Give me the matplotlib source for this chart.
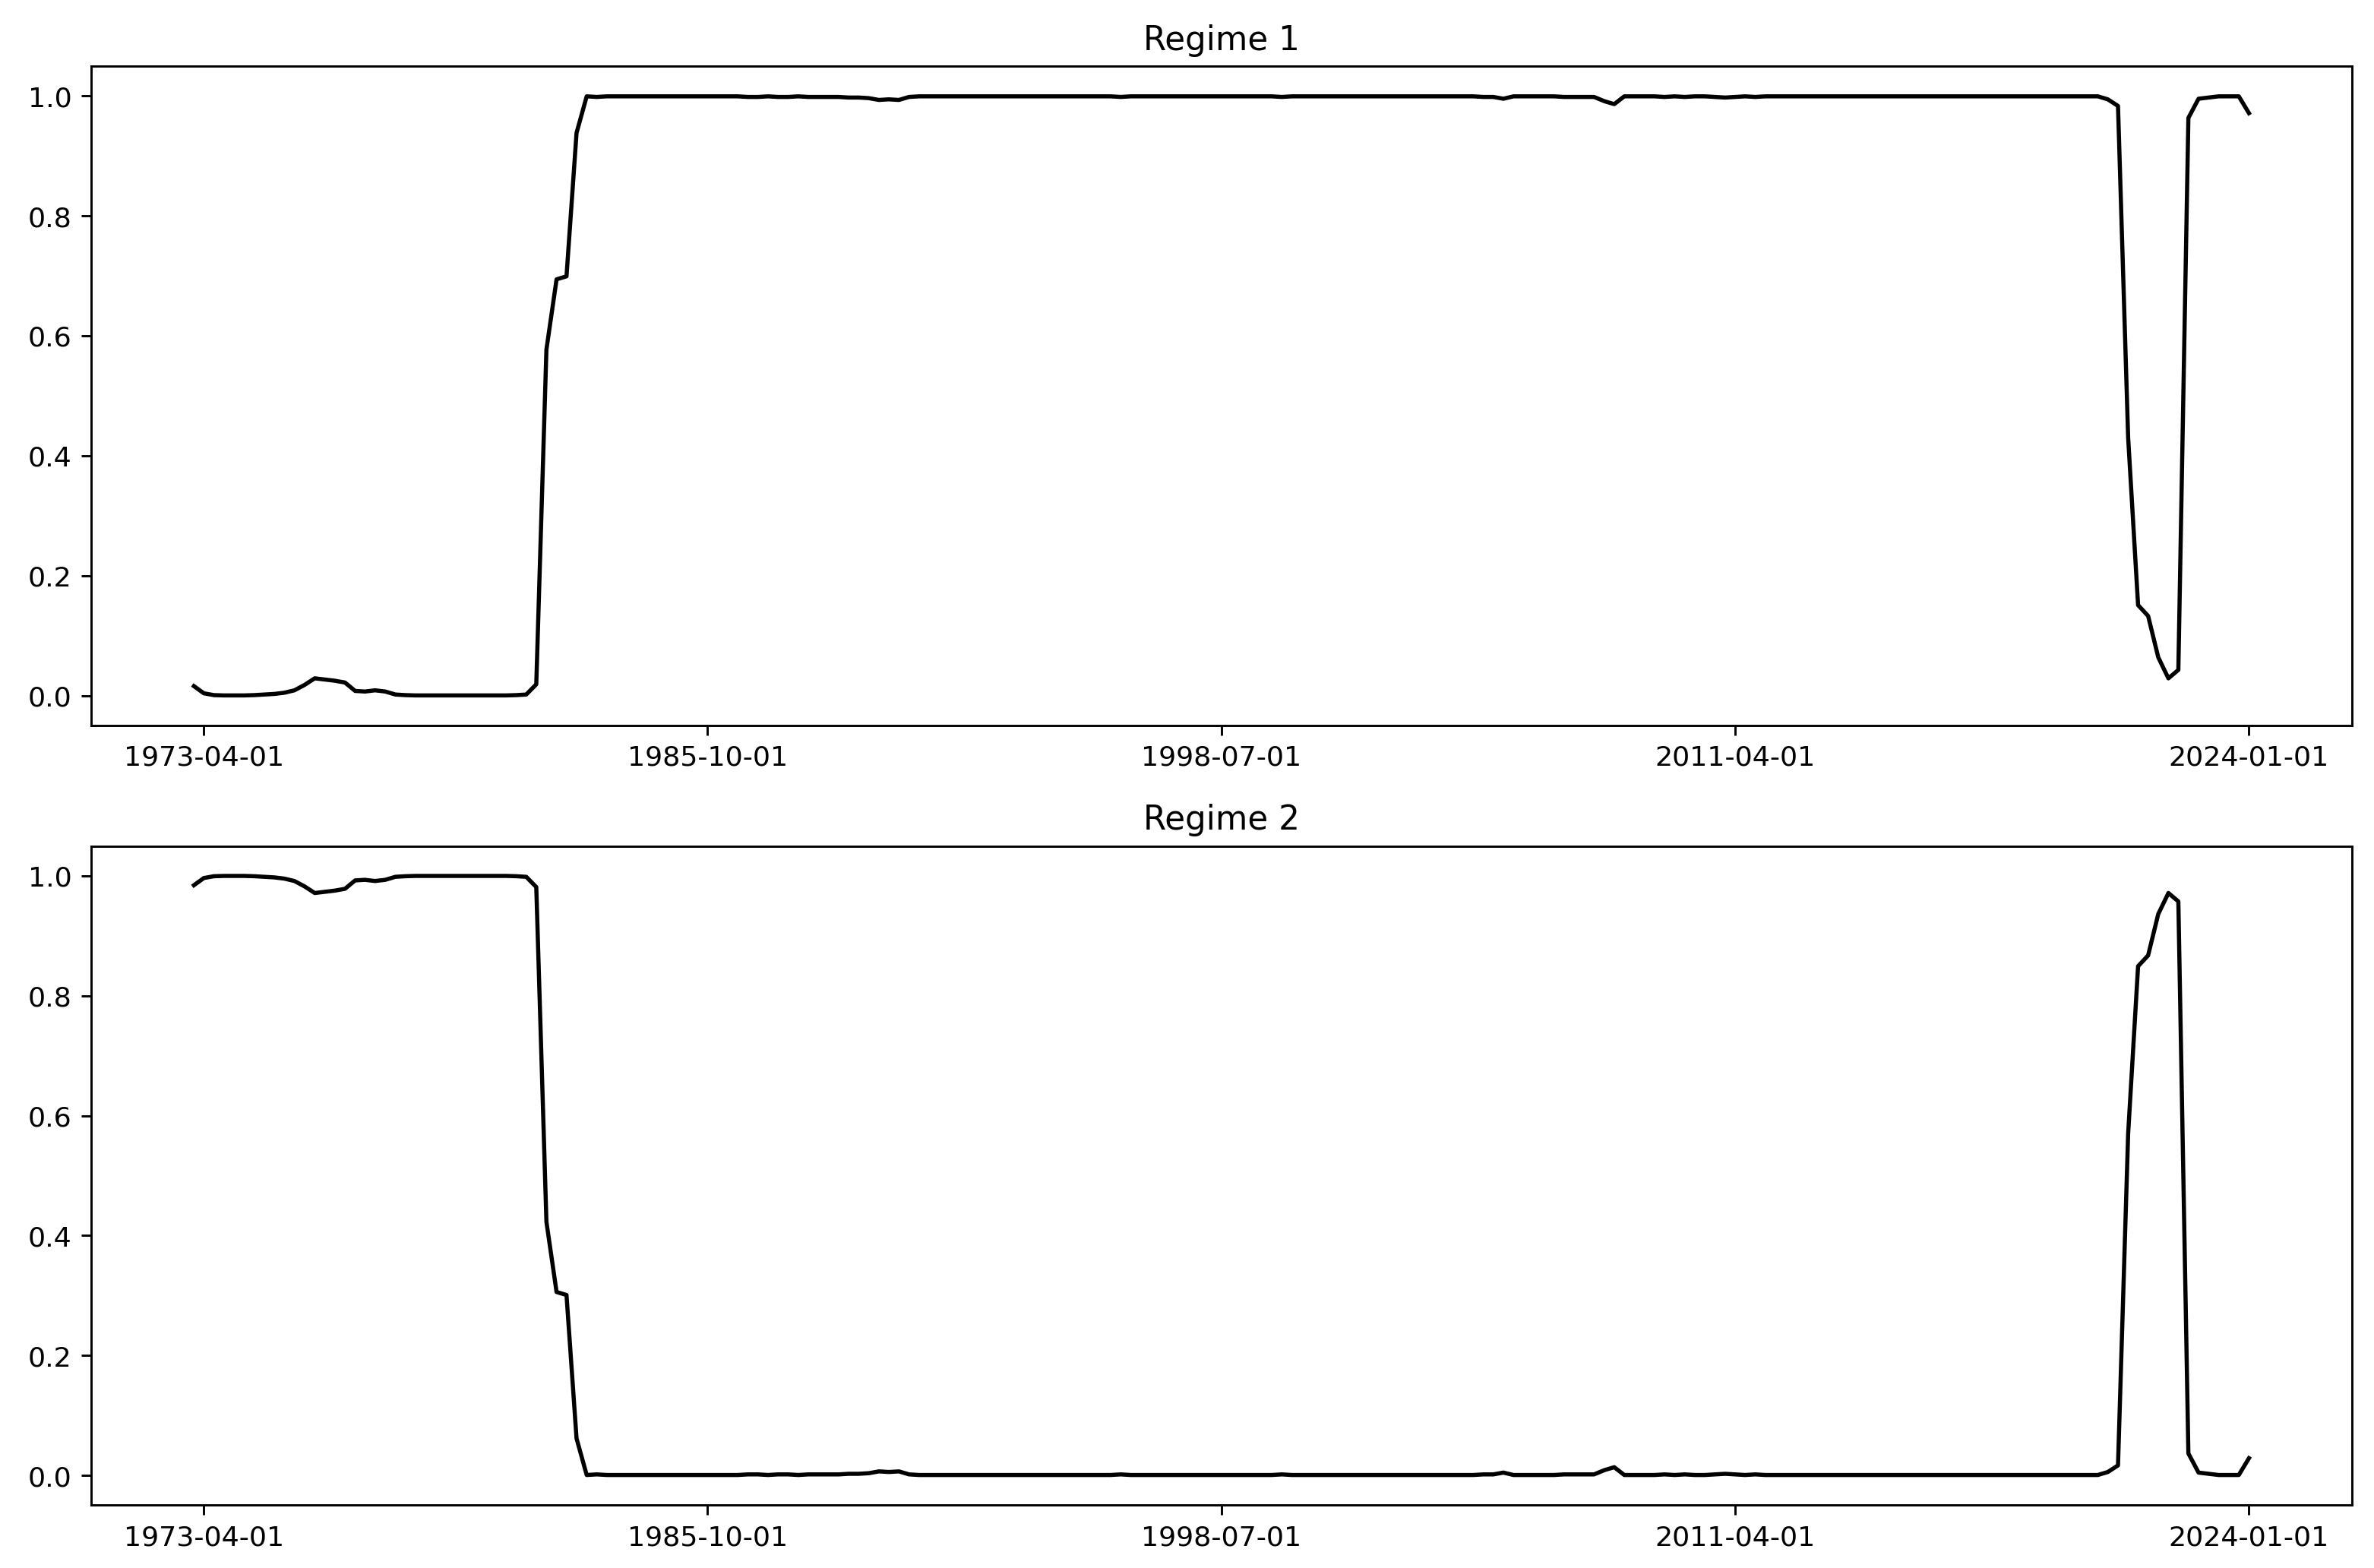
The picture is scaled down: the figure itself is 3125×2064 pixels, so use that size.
import matplotlib
matplotlib.use('Agg')
import matplotlib.pyplot as plt
import pandas as pd

# smoothed regime probabilities, quarterly 1973-01-01 .. 2024-01-01
dates = pd.date_range('1973-01-01', '2024-01-01', freq='QS')

regime_1 = [
    0.016, 0.004, 0.001, 0.0005, 0.0005, 0.0005, 0.001, 0.002, 0.003, 0.005,
    0.009, 0.018, 0.029, 0.027, 0.025, 0.022, 0.008, 0.007, 0.009, 0.007,
    0.002, 0.001, 0.0005, 0.0005, 0.0005, 0.0005, 0.0005, 0.0005, 0.0005, 0.0005,
    0.0005, 0.0005, 0.001, 0.002, 0.019, 0.577, 0.694, 0.699, 0.938, 0.999,
    0.998, 0.999, 0.999, 0.999, 0.999, 0.999, 0.999, 0.999, 0.999, 0.999,
    0.999, 0.999, 0.999, 0.999, 0.999, 0.998, 0.998, 0.999, 0.998, 0.998,
    0.999, 0.998, 0.998, 0.998, 0.998, 0.997, 0.997, 0.996, 0.993, 0.994,
    0.993, 0.998, 0.999, 0.999, 0.999, 0.999, 0.999, 0.999, 0.999, 0.999,
    0.999, 0.999, 0.999, 0.999, 0.999, 0.999, 0.999, 0.999, 0.999, 0.999,
    0.999, 0.999, 0.998, 0.999, 0.999, 0.999, 0.999, 0.999, 0.999, 0.999,
    0.999, 0.999, 0.999, 0.999, 0.999, 0.999, 0.999, 0.999, 0.998, 0.999,
    0.999, 0.999, 0.999, 0.999, 0.999, 0.999, 0.999, 0.999, 0.999, 0.999,
    0.999, 0.999, 0.999, 0.999, 0.999, 0.999, 0.999, 0.999, 0.998, 0.998,
    0.995, 0.999, 0.999, 0.999, 0.999, 0.999, 0.998, 0.998, 0.998, 0.998,
    0.991, 0.986, 0.999, 0.999, 0.999, 0.999, 0.998, 0.999, 0.998, 0.999,
    0.999, 0.998, 0.997, 0.998, 0.999, 0.998, 0.999, 0.999, 0.999, 0.999,
    0.999, 0.999, 0.999, 0.999, 0.999, 0.999, 0.999, 0.999, 0.999, 0.999,
    0.999, 0.999, 0.999, 0.999, 0.999, 0.999, 0.999, 0.999, 0.999, 0.999,
    0.999, 0.999, 0.999, 0.999, 0.999, 0.999, 0.999, 0.999, 0.999, 0.999,
    0.994, 0.983, 0.430, 0.151, 0.133, 0.064, 0.029, 0.043, 0.963, 0.995,
    0.997, 0.999, 0.999, 0.999, 0.971,
]

regime_2 = [
    0.984, 0.996, 0.999, 0.9995, 0.9995, 0.9995, 0.999, 0.998, 0.997, 0.995,
    0.991, 0.982, 0.971, 0.973, 0.975, 0.978, 0.992, 0.993, 0.991, 0.993,
    0.998, 0.999, 0.9995, 0.9995, 0.9995, 0.9995, 0.9995, 0.9995, 0.9995, 0.9995,
    0.9995, 0.9995, 0.999, 0.998, 0.981, 0.423, 0.306, 0.301, 0.062, 0.001,
    0.002, 0.001, 0.001, 0.001, 0.001, 0.001, 0.001, 0.001, 0.001, 0.001,
    0.001, 0.001, 0.001, 0.001, 0.001, 0.002, 0.002, 0.001, 0.002, 0.002,
    0.001, 0.002, 0.002, 0.002, 0.002, 0.003, 0.003, 0.004, 0.007, 0.006,
    0.007, 0.002, 0.001, 0.001, 0.001, 0.001, 0.001, 0.001, 0.001, 0.001,
    0.001, 0.001, 0.001, 0.001, 0.001, 0.001, 0.001, 0.001, 0.001, 0.001,
    0.001, 0.001, 0.002, 0.001, 0.001, 0.001, 0.001, 0.001, 0.001, 0.001,
    0.001, 0.001, 0.001, 0.001, 0.001, 0.001, 0.001, 0.001, 0.002, 0.001,
    0.001, 0.001, 0.001, 0.001, 0.001, 0.001, 0.001, 0.001, 0.001, 0.001,
    0.001, 0.001, 0.001, 0.001, 0.001, 0.001, 0.001, 0.001, 0.002, 0.002,
    0.005, 0.001, 0.001, 0.001, 0.001, 0.001, 0.002, 0.002, 0.002, 0.002,
    0.009, 0.014, 0.001, 0.001, 0.001, 0.001, 0.002, 0.001, 0.002, 0.001,
    0.001, 0.002, 0.003, 0.002, 0.001, 0.002, 0.001, 0.001, 0.001, 0.001,
    0.001, 0.001, 0.001, 0.001, 0.001, 0.001, 0.001, 0.001, 0.001, 0.001,
    0.001, 0.001, 0.001, 0.001, 0.001, 0.001, 0.001, 0.001, 0.001, 0.001,
    0.001, 0.001, 0.001, 0.001, 0.001, 0.001, 0.001, 0.001, 0.001, 0.001,
    0.006, 0.017, 0.570, 0.849, 0.867, 0.936, 0.971, 0.957, 0.037, 0.005,
    0.003, 0.001, 0.001, 0.001, 0.029,
]

tick_labels = ['1973-04-01', '1985-10-01', '1998-07-01', '2011-04-01', '2024-01-01']
titles = ['Regime 1', 'Regime 2']

fig, axes = plt.subplots(2, 1, figsize=(11.93, 7.88), dpi=262)
fig.subplots_adjust(left=0.0384, right=0.9904, top=0.9574, bottom=0.0402, hspace=0.183)

for ax, probs, title in zip(axes, [regime_1, regime_2], titles):
    ax.plot(dates, probs, color='k')
    ax.set_title(title)
    ax.set_xticks(pd.to_datetime(tick_labels))
    ax.set_xticklabels(tick_labels)

fig.savefig('out.png')
